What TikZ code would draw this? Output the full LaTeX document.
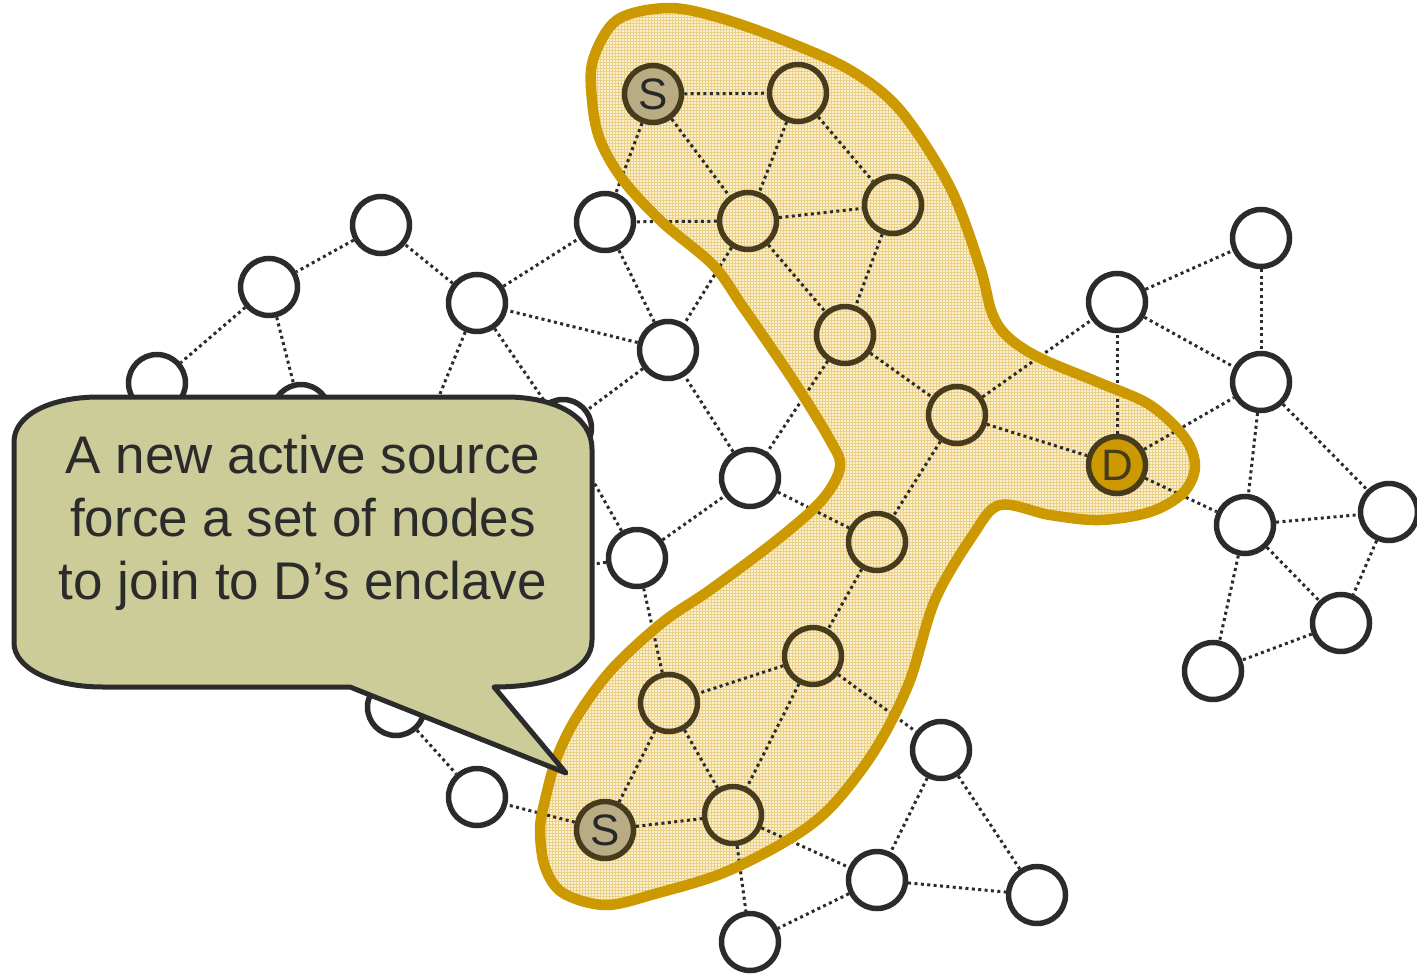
\documentclass[tikz,border=0pt]{standalone}
\usepackage{fontspec}
\setmainfont{Liberation Sans}
\usetikzlibrary{patterns}

\definecolor{ink}{HTML}{2B2B2B}
\definecolor{inkin}{HTML}{463B1C}
\definecolor{gold}{HTML}{CC9900}
\definecolor{encfill}{HTML}{FAF0D2}
\definecolor{encgrid}{HTML}{EBCF85}
\definecolor{srcfill}{HTML}{B9AB83}
\definecolor{notefill}{HTML}{CCCC99}

% outline of D's enclave
\newcommand\enclaveshape{plot[smooth cycle, tension=0.55] coordinates {
  (593,60) (617,20) (667,8) (717,17) (783,40) (850,70) (900,110) (950,187)
  (980,267) (992,313) (1008,337) (1040,358) (1100,383) (1150,405) (1185,438)
  (1195,467) (1183,493) (1150,512) (1100,520) (1050,515) (1000,505) (973,535)
  (935,600) (909,683) (875,750) (831,807) (788,840) (723,873) (658,893)
  (606,905) (563,893) (545,867) (540,830) (545,800) (557,757) (578,715)
  (613,668) (663,622) (710,590) (777,540) (822,500) (840,467) (830,440)
  (793,380) (743,307) (713,265) (662,222) (623,180) (600,140) (592,100)}}

\begin{document}
\begin{tikzpicture}[x=1pt, y=-1pt,
  peer/.style={circle, draw=ink, fill=white, line width=5.5pt, minimum size=57pt, inner sep=0pt},
  member/.style={circle, draw=inkin, line width=5.5pt, minimum size=57pt, inner sep=0pt},
  srcnode/.style={member, fill=srcfill, text=ink!90!black, font=\fontsize{44}{44}\selectfont},
  dstnode/.style={member, fill=gold, text=inkin, font=\fontsize{44}{44}\selectfont},
  link/.style={draw=ink, line width=3pt, dash pattern=on 3pt off 3.4pt},
  note/.style={draw=ink, fill=notefill, line width=5pt, line join=round}]
\useasboundingbox (0,0) rectangle (1417,977);

% enclave area
\path[preaction={fill=encfill}, pattern=grid, pattern color=encgrid] \enclaveshape;

% nodes of the enclave
\node[srcnode] (s1) at (653,94) {S};
\node[member] (a2) at (798,93) {};
\node[member] (a3) at (748,221) {};
\node[member] (a4) at (893,205) {};
\node[member] (a5) at (845,335) {};
\node[member] (a6) at (957,415) {};
\node[dstnode] (d) at (1117,465) {D};
\node[member] (a8) at (877,542) {};
\node[member] (a9) at (813,656) {};
\node[member] (a10) at (669,703) {};
\node[srcnode] (s2) at (605,830) {S};
\node[member] (a12) at (733,815) {};

% other nodes
\node[peer] (o1) at (381,225) {};
\node[peer] (o2) at (269,287) {};
\node[peer] (o3) at (605,222) {};
\node[peer] (o4) at (477,303) {};
\node[peer] (o5) at (668,350) {};
\node[peer] (o6) at (157,383) {};
\node[peer] (o7) at (301,413) {};
\node[peer] (o8) at (563,428) {};
\node[peer] (o9) at (750,478) {};
\node[peer] (o10) at (637,558) {};
\node[peer] (o11) at (396,707) {};
\node[peer] (o12) at (477,797) {};
\node[peer] (o13) at (941,750) {};
\node[peer] (o14) at (877,880) {};
\node[peer] (o15) at (1037,895) {};
\node[peer] (o16) at (750,942) {};
\node[peer] (r1) at (1117,302) {};
\node[peer] (r2) at (1261,238) {};
\node[peer] (r3) at (1261,382) {};
\node[peer] (r4) at (1245,525) {};
\node[peer] (r5) at (1389,512) {};
\node[peer] (r6) at (1341,623) {};
\node[peer] (r7) at (1213,671) {};

% links running on under the note
\coordinate (h1) at (405,480);
\coordinate (h2) at (480,580);

% links
\foreach \u/\v in {s1/a2, s1/a3, s1/o3, a2/a3, a2/a4, a3/a4, a3/o3, a3/a5, a3/o5,
  a4/a5, a5/a6, a5/o9, a6/d, a6/a8, a6/r1, d/r1, d/r3, d/r4, r1/r2, r1/r3, r2/r3,
  r3/r4, r3/r5, r4/r5, r4/r6, r4/r7, r5/r6, r6/r7, o9/a8, a8/a9, a9/a10, a9/a12,
  a9/o13, a10/s2, a10/a12, a10/o10, s2/a12, s2/o12, a12/o14, a12/o16, o13/o14,
  o13/o15, o14/o15, o14/o16, o10/o9, o10/o8, o9/o5, o5/o4, o5/o3, o5/o8, o4/o3,
  o4/o1, o4/o8, o1/o2, o2/o6, o2/o7, o11/o12}
  \path[link] (\u) -- (\v);
\path[link] (o4) -- (h1);
\path[link] (o10) -- (h2);

% enclave border
\draw[gold, line width=10.5pt, line join=round] \enclaveshape;

% speech bubble
\draw[note] (99,397) -- (506,397)
  .. controls (556,397) and (592,417) .. (592,449) -- (592,640)
  .. controls (592,670) and (552,687) .. (494,687) -- (566,773) -- (350,687)
  -- (103,687) .. controls (50,687) and (14,667) .. (14,643) -- (14,442)
  .. controls (14,415) and (50,397) .. (99,397) -- cycle;
\node[align=center, inner sep=0pt, text=ink, font=\fontsize{53}{63}\selectfont]
  (msg) at (303,523) {A new active source\\force a set of nodes\\to join to D’s enclave};
\end{tikzpicture}
\end{document}
